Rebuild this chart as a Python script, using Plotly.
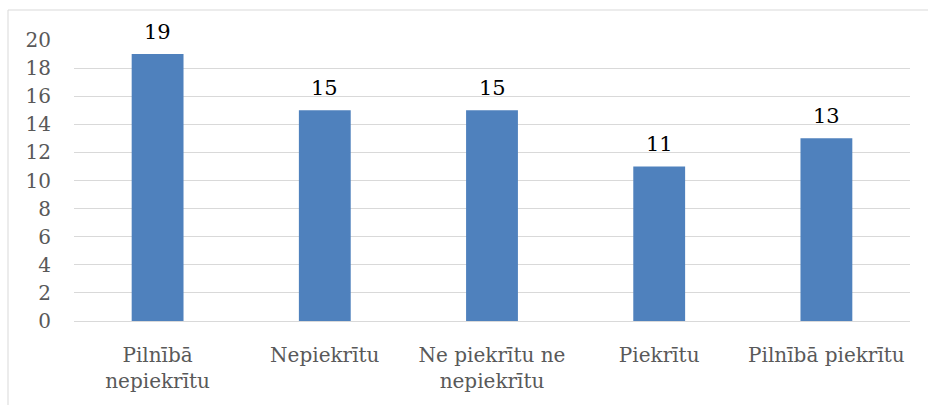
import plotly.graph_objects as go

categories = ["Pilnībā<br>nepiekrītu", "Nepiekrītu", "Ne piekrītu ne<br>nepiekrītu", "Piekrītu", "Pilnībā piekrītu"]
values = [19, 15, 15, 11, 13]
y_ticks = list(range(0, 21, 2))

FONT = "DejaVu Serif"
W, H = 928, 405
L, R, T, B = 74, 18, 40, 84

fig = go.Figure(
    go.Bar(
        x=categories,
        y=values,
        marker=dict(color="#4f81bd", line=dict(width=0)),
        hoverinfo="skip",
    )
)

# value labels above each bar
for c, v in zip(categories, values):
    fig.add_annotation(
        x=c, y=v, text=str(v), showarrow=False,
        xanchor="center", yanchor="bottom", yshift=8,
        font=dict(family=FONT, size=21, color="#000000"),
    )

# light frame around the chart (top and left edges visible)
pw, ph = W - L - R, H - T - B
x0 = (8 - L) / pw
y1 = 1 + (T - 10) / ph
fig.add_shape(type="line", xref="paper", yref="paper", x0=x0, x1=1.2, y0=y1, y1=y1,
              line=dict(color="#d9d9d9", width=1))
fig.add_shape(type="line", xref="paper", yref="paper", x0=x0, x1=x0, y0=-0.5, y1=y1,
              line=dict(color="#d9d9d9", width=1))

fig.update_layout(
    width=W, height=H,
    margin=dict(l=L, r=R, t=T, b=B, pad=0),
    paper_bgcolor="white", plot_bgcolor="white",
    bargap=0.69,
    showlegend=False,
    font=dict(family=FONT, color="#595959"),
    xaxis=dict(
        showgrid=False, showline=False, ticks="", ticklabelstandoff=20,
        tickfont=dict(family=FONT, size=20, color="#595959"),
        fixedrange=True,
    ),
    yaxis=dict(
        range=[0, 20], tickvals=y_ticks,
        showgrid=True, gridcolor="#d9d9d9", gridwidth=1,
        zeroline=True, zerolinecolor="#d9d9d9", zerolinewidth=1,
        showline=False, ticks="", ticklabelstandoff=22,
        tickfont=dict(family=FONT, size=20, color="#595959"),
        fixedrange=True,
    ),
)

fig.write_html("out.html")
